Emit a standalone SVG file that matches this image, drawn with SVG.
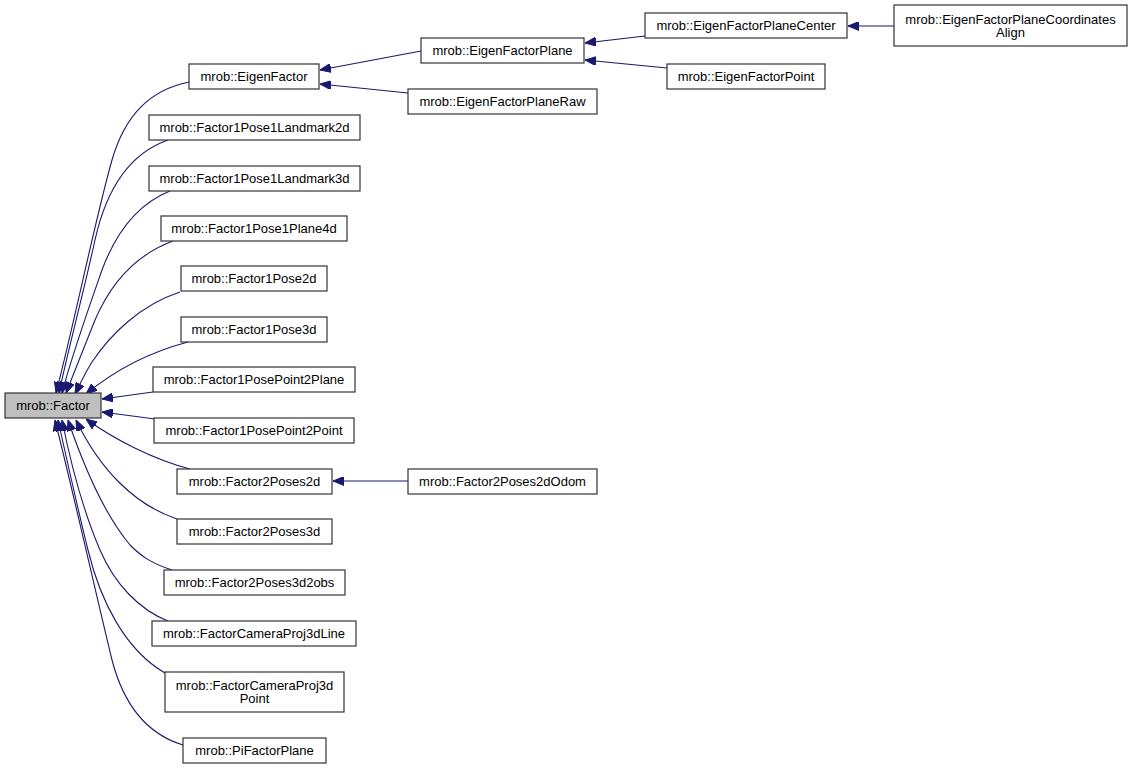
<svg xmlns="http://www.w3.org/2000/svg" width="1132" height="770" viewBox="0 0 1132 770">
<defs>
<marker id="arr" viewBox="0 0 11 9" refX="11" refY="4.5" markerWidth="11" markerHeight="9" markerUnits="userSpaceOnUse" orient="auto">
<path d="M0,0 L11,4.5 L0,9 z" fill="#191970" stroke="#191970" stroke-width="1"/>
</marker>
</defs>
<style>
.n rect{fill:#ffffff;stroke:#333333;stroke-width:1.2}
.n text{font-family:"Liberation Sans",Arial,sans-serif;font-size:13px;fill:#000000;text-anchor:middle}
#Factor rect{fill:#bfbfbf}
.e path{fill:none;stroke:#191970;stroke-width:1.1;marker-end:url(#arr)}
</style>
<rect x="0" y="0" width="1132" height="770" fill="#ffffff"/>
<g class="e" id="edges">
<path d="M189,82 C150,90 125,115 112,160 C95,220 75,320 56,393"/>
<path d="M168,140 C125,155 105,195 95,240 C83,295 68,350 59,393"/>
<path d="M170,191 C135,205 115,235 102,270 C88,310 72,355 62,393"/>
<path d="M173,241 C135,255 110,285 95,320 C85,345 75,370 66,393"/>
<path d="M180,292 C140,305 110,335 92,362 C85,373 80,384 75,394"/>
<path d="M188,342 C150,352 115,370 86,394"/>
<path d="M153,392 L102,399"/>
<path d="M155,419 L102,412"/>
<path d="M190,469 C155,460 115,440 86,419"/>
<path d="M177,519 C135,505 100,470 76,420"/>
<path d="M172,570 C150,563 140,555 130,545 C105,515 85,470 68,420"/>
<path d="M168,621 C140,610 115,585 100,550 C85,515 72,470 62,420"/>
<path d="M165,673 C125,650 100,600 88,550 C78,510 68,465 58,420"/>
<path d="M183,745 C150,735 125,710 112,660 C95,590 75,500 55,420"/>
<path d="M421,51 L320,70"/>
<path d="M408,93 L320,84"/>
<path d="M645,36 L585,43"/>
<path d="M667,68 L585,60"/>
<path d="M894,26 L848,26"/>
<path d="M408,481 L333,481"/>
</g>
<g class="n" id="Factor"><rect x="5" y="393" width="96" height="25"/><text x="53" y="410">mrob::Factor</text></g>
<g class="n" id="EigenFactor"><rect x="189" y="64" width="130" height="25"/><text x="254" y="81">mrob::EigenFactor</text></g>
<g class="n" id="Factor1Pose1Landmark2d"><rect x="149" y="115" width="211" height="25"/><text x="254.5" y="132">mrob::Factor1Pose1Landmark2d</text></g>
<g class="n" id="Factor1Pose1Landmark3d"><rect x="149" y="166" width="211" height="25"/><text x="254.5" y="183">mrob::Factor1Pose1Landmark3d</text></g>
<g class="n" id="Factor1Pose1Plane4d"><rect x="161" y="216" width="186" height="25"/><text x="254" y="233">mrob::Factor1Pose1Plane4d</text></g>
<g class="n" id="Factor1Pose2d"><rect x="181" y="266" width="146" height="25"/><text x="254" y="283">mrob::Factor1Pose2d</text></g>
<g class="n" id="Factor1Pose3d"><rect x="181" y="317" width="146" height="25"/><text x="254" y="334">mrob::Factor1Pose3d</text></g>
<g class="n" id="Factor1PosePoint2Plane"><rect x="153" y="367" width="202" height="25"/><text x="254" y="384">mrob::Factor1PosePoint2Plane</text></g>
<g class="n" id="Factor1PosePoint2Point"><rect x="154" y="418" width="200" height="25"/><text x="254" y="435">mrob::Factor1PosePoint2Point</text></g>
<g class="n" id="Factor2Poses2d"><rect x="177" y="469" width="155" height="25"/><text x="254.5" y="486">mrob::Factor2Poses2d</text></g>
<g class="n" id="Factor2Poses3d"><rect x="177" y="519" width="155" height="25"/><text x="254.5" y="536">mrob::Factor2Poses3d</text></g>
<g class="n" id="Factor2Poses3d2obs"><rect x="164" y="570" width="181" height="25"/><text x="254.5" y="587">mrob::Factor2Poses3d2obs</text></g>
<g class="n" id="FactorCameraProj3dLine"><rect x="152" y="621" width="204" height="25"/><text x="254" y="638">mrob::FactorCameraProj3dLine</text></g>
<g class="n" id="FactorCameraProj3dPoint"><rect x="165" y="672" width="179" height="40"/><text x="254.5" y="690">mrob::FactorCameraProj3d</text><text x="254.5" y="703">Point</text></g>
<g class="n" id="PiFactorPlane"><rect x="183" y="738" width="143" height="25"/><text x="254.5" y="755">mrob::PiFactorPlane</text></g>
<g class="n" id="EigenFactorPlane"><rect x="421" y="38" width="163" height="25"/><text x="502.5" y="55">mrob::EigenFactorPlane</text></g>
<g class="n" id="EigenFactorPlaneRaw"><rect x="408" y="89" width="189" height="25"/><text x="502.5" y="106">mrob::EigenFactorPlaneRaw</text></g>
<g class="n" id="Factor2Poses2dOdom"><rect x="408" y="469" width="189" height="25"/><text x="502.5" y="486">mrob::Factor2Poses2dOdom</text></g>
<g class="n" id="EigenFactorPlaneCenter"><rect x="645" y="13" width="202" height="25"/><text x="746" y="30">mrob::EigenFactorPlaneCenter</text></g>
<g class="n" id="EigenFactorPoint"><rect x="667" y="64" width="158" height="25"/><text x="746" y="81">mrob::EigenFactorPoint</text></g>
<g class="n" id="EigenFactorPlaneCoordinatesAlign"><rect x="894" y="5" width="233" height="41"/><text x="1010.5" y="24">mrob::EigenFactorPlaneCoordinates</text><text x="1010.5" y="37">Align</text></g>
</svg>
